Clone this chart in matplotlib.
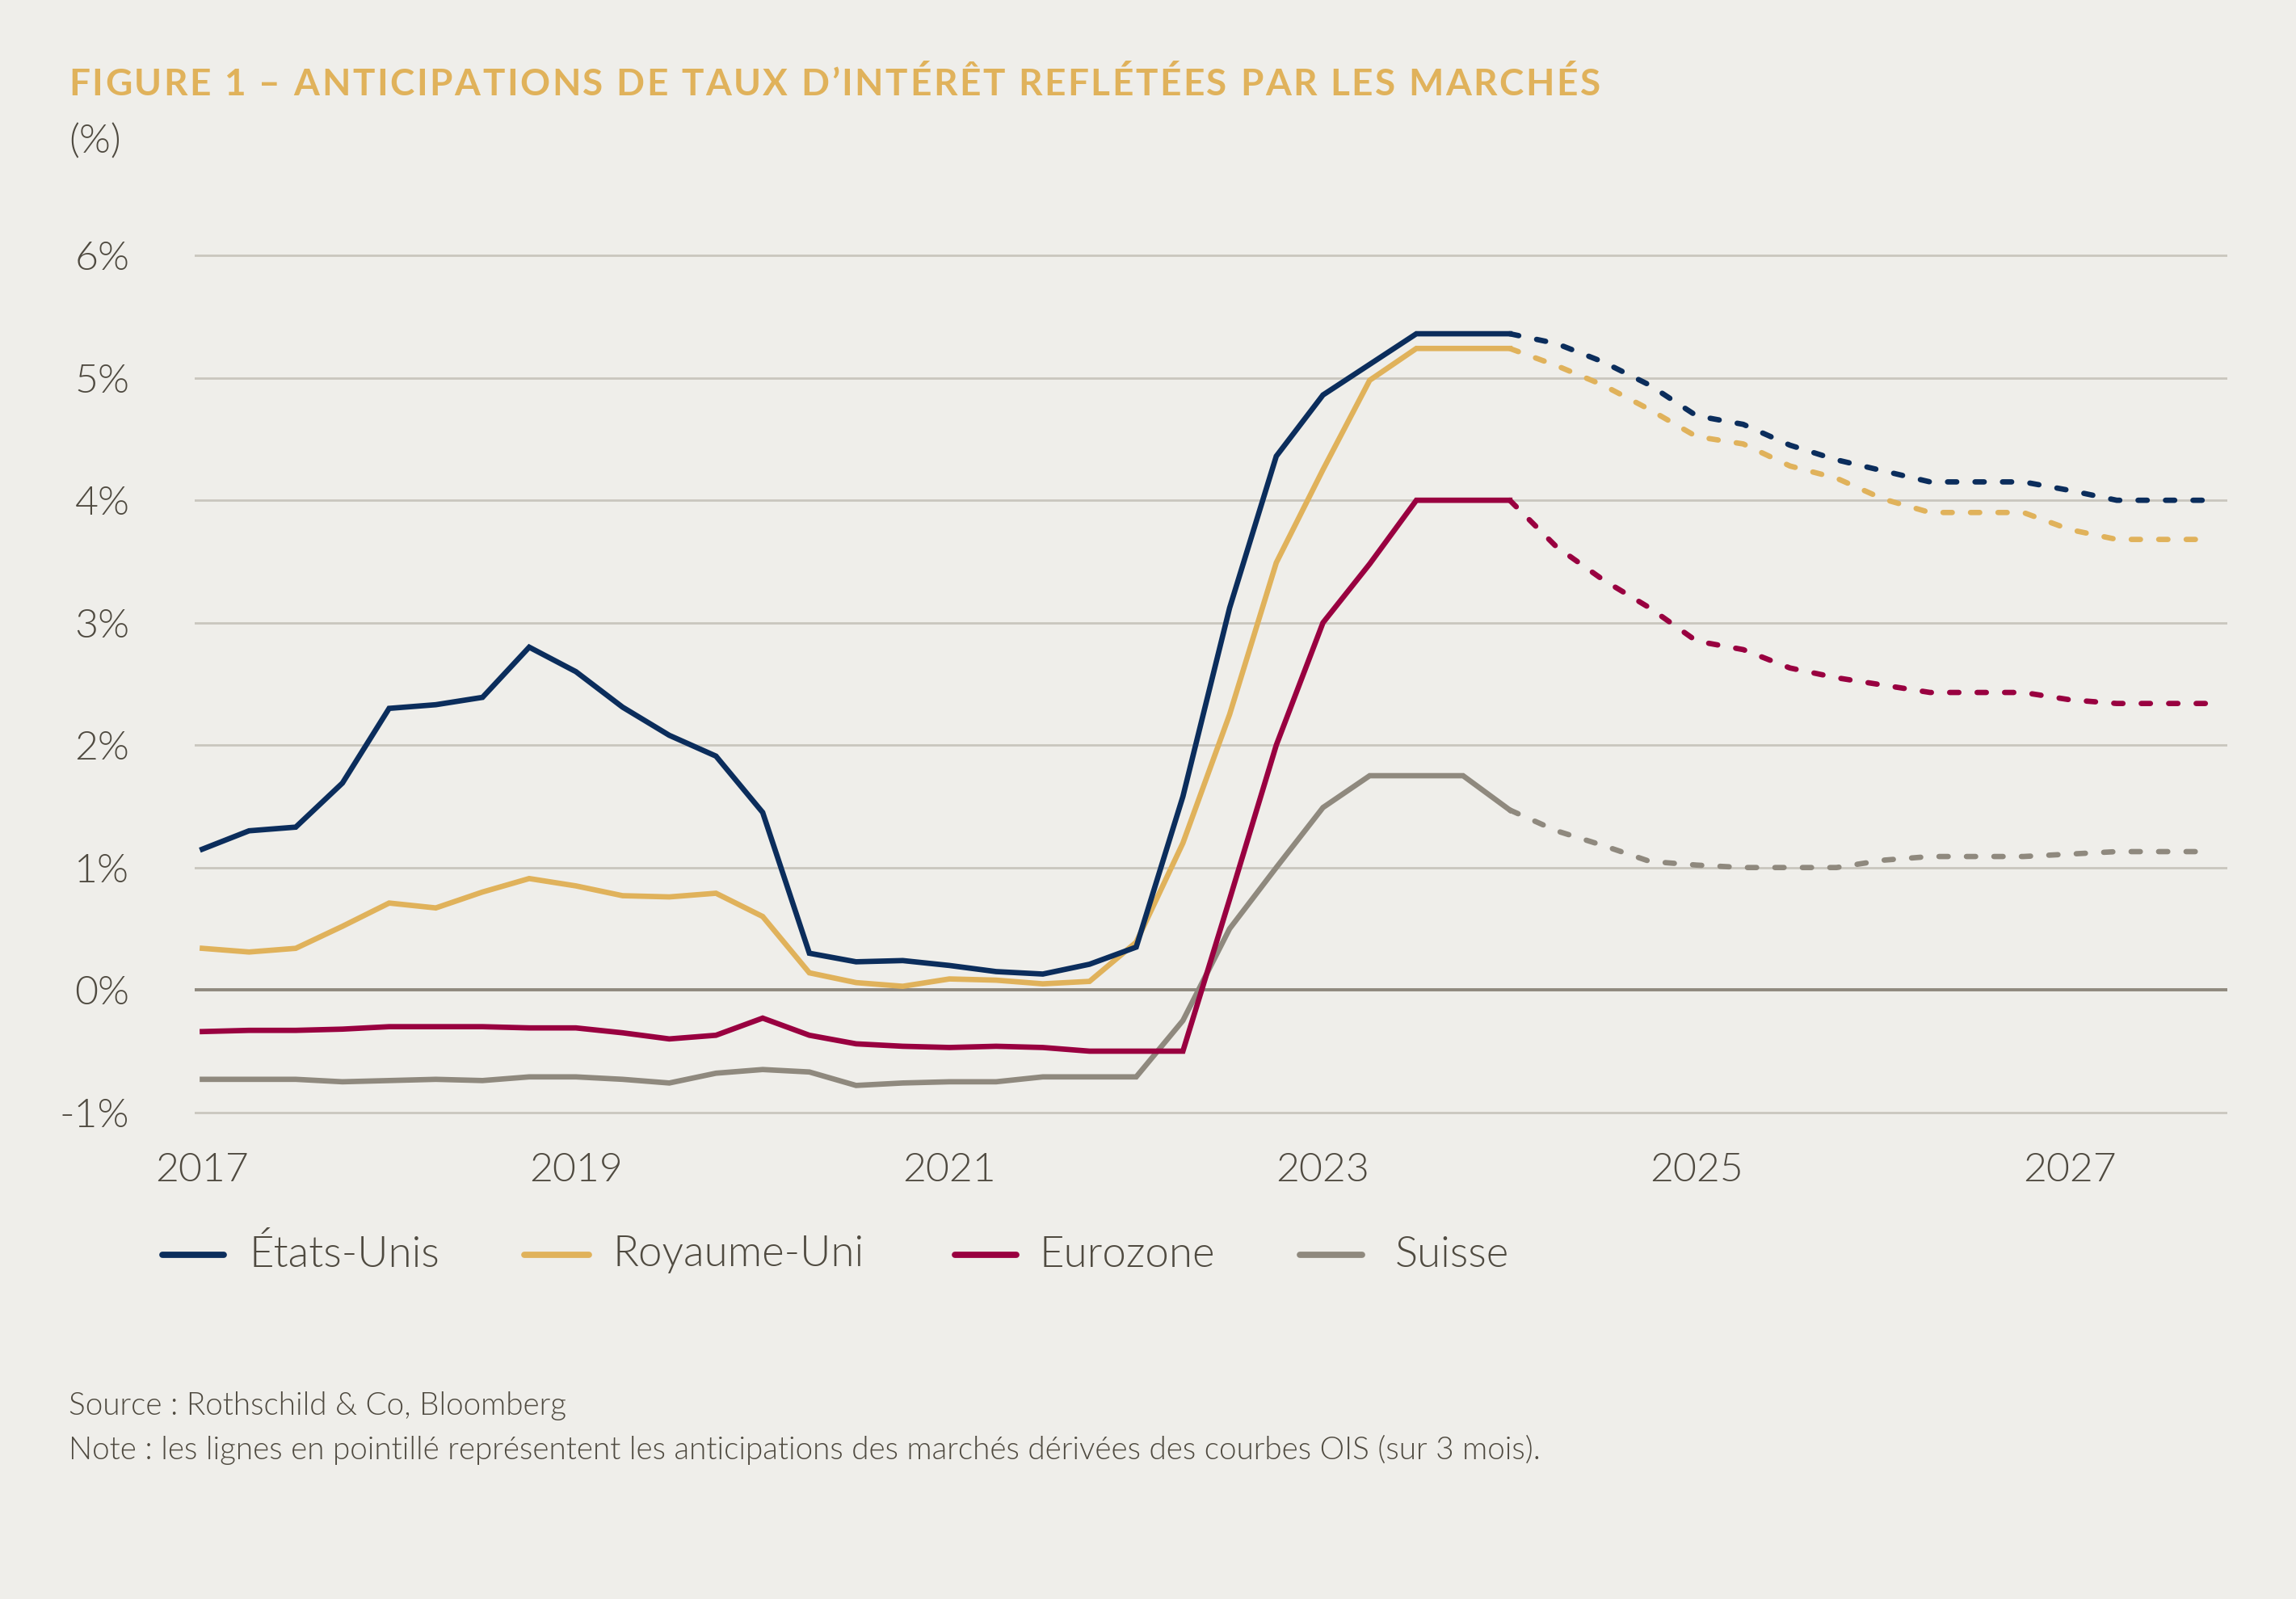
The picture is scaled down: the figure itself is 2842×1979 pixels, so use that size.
import numpy as np
import matplotlib
matplotlib.use("Agg")
import matplotlib.pyplot as plt
from matplotlib.lines import Line2D
from matplotlib import font_manager

# quarterly data, 2017 Q1 -> 2024 Q1 observed, 2024 Q1 -> 2027 Q4 market expectations
start_year = 2017
n_hist = 29
n_fcst = 16

us_hist = [1.15, 1.30, 1.33, 1.69, 2.30, 2.33, 2.39, 2.80, 2.60, 2.31, 2.08, 1.91,
           1.45, 0.30, 0.23, 0.24, 0.20, 0.15, 0.13, 0.21, 0.35, 1.58, 3.12, 4.36,
           4.86, 5.11, 5.36, 5.36, 5.36]
us_fcst = [5.36, 5.28, 5.13, 4.94, 4.69, 4.62, 4.45, 4.33, 4.24, 4.15, 4.15, 4.15,
           4.08, 4.00, 4.00, 4.00]

uk_hist = [0.34, 0.31, 0.34, 0.52, 0.71, 0.67, 0.80, 0.91, 0.85, 0.77, 0.76, 0.79,
           0.60, 0.14, 0.06, 0.03, 0.09, 0.08, 0.05, 0.07, 0.39, 1.20, 2.25, 3.49,
           4.25, 4.98, 5.24, 5.24, 5.24]
uk_fcst = [5.24, 5.10, 4.94, 4.74, 4.52, 4.46, 4.28, 4.18, 4.01, 3.90, 3.90, 3.90,
           3.76, 3.68, 3.68, 3.68]

eu_hist = [-0.34, -0.33, -0.33, -0.32, -0.30, -0.30, -0.30, -0.31, -0.31, -0.35, -0.40, -0.37,
           -0.23, -0.37, -0.44, -0.46, -0.47, -0.46, -0.47, -0.50, -0.50, -0.50, 0.74, 2.00,
           3.00, 3.48, 4.00, 4.00, 4.00]
eu_fcst = [4.00, 3.62, 3.35, 3.12, 2.85, 2.78, 2.63, 2.55, 2.49, 2.43, 2.43, 2.43,
           2.37, 2.34, 2.34, 2.34]

ch_hist = [-0.73, -0.73, -0.73, -0.75, -0.74, -0.73, -0.74, -0.71, -0.71, -0.73, -0.76, -0.68,
           -0.65, -0.67, -0.78, -0.76, -0.75, -0.75, -0.71, -0.71, -0.71, -0.25, 0.50, 1.00,
           1.49, 1.75, 1.75, 1.75, 1.47]
ch_fcst = [1.47, 1.30, 1.18, 1.05, 1.02, 1.00, 1.00, 1.00, 1.06, 1.09, 1.09, 1.09,
           1.11, 1.13, 1.13, 1.13]

names = ["États-Unis", "Royaume-Uni", "Eurozone", "Suisse"]
colors = ["#0B2D5C", "#E0B25B", "#990040", "#8F897E"]
yticks = [-1, 0, 1, 2, 3, 4, 5, 6]
xticks = [2017, 2019, 2021, 2023, 2025, 2027]
title = "FIGURE 1 – ANTICIPATIONS DE TAUX D’INTÉRÊT REFLÉTÉES PAR LES MARCHÉS"

bg = "#EFEEEA"
txt = "#4F4A40"
font = "Lato"
lato_weights = sorted({f.weight for f in font_manager.fontManager.ttflist if f.name == font})
wlight = 300 if 300 in lato_weights else "normal"

W, H = 2842, 1979
x_hist = start_year + np.arange(n_hist) * 0.25
x_fcst = start_year + (n_hist - 1 + np.arange(n_fcst)) * 0.25

fig = plt.figure(figsize=(W / 200, H / 200), dpi=200, facecolor=bg)
ax = fig.add_axes([241 / W, 0.3005, (2757 - 241) / W, 0.5436])
ax.set_facecolor(bg)

for yv in yticks:
    if yv == 0:
        ax.axhline(yv, color="#8F897E", lw=1.4, zorder=1)
    else:
        ax.axhline(yv, color="#C9C6BE", lw=1.0, zorder=1)

series = [(us_hist, us_fcst), (uk_hist, uk_fcst), (eu_hist, eu_fcst), (ch_hist, ch_fcst)]
for (h, f), c in zip(series[::-1], colors[::-1]):
    ax.plot(x_hist, h, color=c, lw=2.4, solid_joinstyle="miter", zorder=3)
    ax.plot(x_fcst, f, color=c, lw=2.4, dashes=(1.7, 3.4),
            dash_capstyle="round", zorder=3)

ax.set_xlim(2016.959, 2027.842)
ax.set_ylim(-1.05, 6.05)
ax.set_yticks(yticks)
ax.set_yticklabels([f"{v}%" for v in yticks])
ax.set_xticks(xticks)
ax.set_xticklabels([str(v) for v in xticks])
for s in ax.spines.values():
    s.set_visible(False)
ax.tick_params(length=0, colors=txt, labelsize=18)
ax.tick_params(axis="y", pad=29)
ax.tick_params(axis="x", pad=15)
for lab in ax.get_xticklabels() + ax.get_yticklabels():
    lab.set_fontfamily(font)
    lab.set_fontweight(wlight)

# title with letter spacing, placed char by char
renderer = fig.canvas.get_renderer()
probe = fig.text(0, 0, "", fontsize=16.5, fontweight="bold", family=font)
track = 2.6
x0, ty = 85, 1 - 105 / H
for i, ch in enumerate(title):
    if ch == " ":
        continue
    probe.set_text(title[:i + 1])
    wfull = probe.get_window_extent(renderer).width
    probe.set_text(ch)
    wch = probe.get_window_extent(renderer).width
    fig.text((x0 + wfull - wch + i * track) / W, ty, ch, color="#E0B25B", fontsize=16.5,
             fontweight="bold", family=font, va="center", ha="left")
probe.remove()

fig.text(85 / W, 1 - 176 / H, "(%)", color=txt, fontsize=18, fontweight=wlight,
         family=font, va="center", ha="left")

# legend
leg_y = 1 - 1553 / H
handle_x = [(201, 277), (649, 729), (1182, 1258), (1609, 1686)]
text_x = [308, 758, 1287, 1727]
for (xa, xb), tx, c, n in zip(handle_x, text_x, colors, names):
    fig.add_artist(Line2D([xa / W, xb / W], [leg_y, leg_y], color=c, lw=2.8,
                          solid_capstyle="round", transform=fig.transFigure))
    fig.text(tx / W, leg_y, n, color=txt, fontsize=19, fontweight=wlight,
             family=font, va="center", ha="left")

fig.text(85 / W, 1 - 1740 / H, "Source : Rothschild & Co, Bloomberg", color=txt,
         fontsize=13.9, fontweight=wlight, family=font, va="center", ha="left")
fig.text(85 / W, 1 - 1794 / H,
         "Note : les lignes en pointillé représentent les anticipations des marchés dérivées des courbes OIS (sur 3 mois).",
         color=txt, fontsize=13.9, fontweight=wlight, family=font, va="center", ha="left")

fig.savefig("out.png", dpi=200, facecolor=bg)
